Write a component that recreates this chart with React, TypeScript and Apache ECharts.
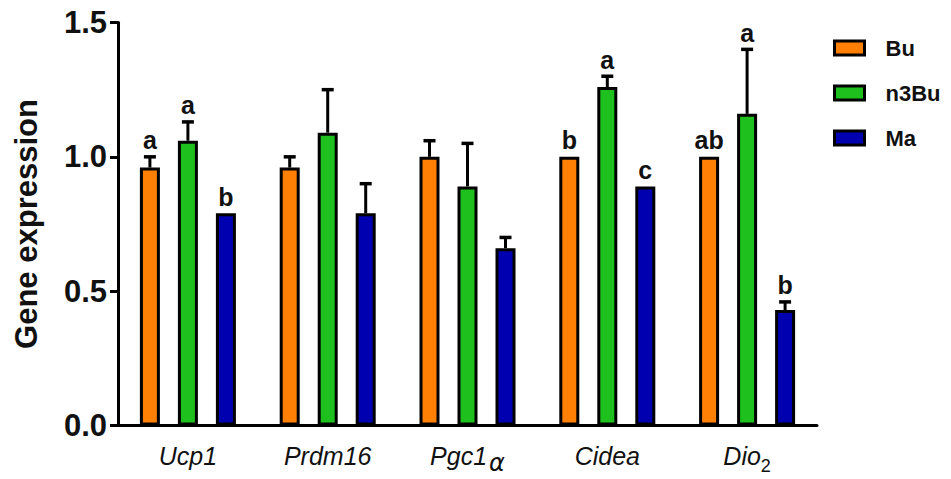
import React, { useEffect, useRef } from "react";
import * as echarts from "echarts";

const categories = ["Ucp1", "Prdm16", "Pgc1α", "Cidea", "Dio2"];
const seriesNames = ["Bu", "n3Bu", "Ma"];
const buValues = [0.96, 0.96, 1.0, 1.0, 1.0];
const n3buValues = [1.06, 1.09, 0.89, 1.26, 1.16];
const maValues = [0.79, 0.79, 0.66, 0.89, 0.43];
const buErr = [0.04, 0.04, 0.06, 0, 0];
const n3buErr = [0.07, 0.16, 0.16, 0.04, 0.24];
const maErr = [0, 0.11, 0.04, 0, 0.03];
const buLetters = ["a", "", "", "b", "ab"];
const n3buLetters = ["a", "", "", "a", "a"];
const maLetters = ["b", "", "", "c", "b"];
const yTicks = { min: 0, max: 1.5, interval: 0.5 };

const colors = ["#FF8005", "#1EC01E", "#0000B0"];
const FONT = "Liberation Sans, Arial, sans-serif";
const BAR_W = 20;
const BAR_GAP = 0.9;

const labelFormat: Record<string, string> = {
  Ucp1: "{n|Ucp1}",
  Prdm16: "{n|Prdm16}",
  "Pgc1α": "{n|Pgc1}{g|α}",
  Cidea: "{n|Cidea}",
  Dio2: "{n|Dio}{s|2}",
};

export default function App() {
  const ref = useRef<HTMLDivElement>(null);
  useEffect(() => {
    if (!ref.current) return;
    const chart = echarts.init(ref.current, null, { renderer: "svg" });
    const values = [buValues, n3buValues, maValues];
    const errs = [buErr, n3buErr, maErr];
    const letters = [buLetters, n3buLetters, maLetters];

    const barSeries = seriesNames.map((name, i) => ({
      name,
      type: "bar",
      data: values[i],
      barWidth: BAR_W,
      barGap: `${BAR_GAP * 100}%`,
      itemStyle: { color: colors[i], borderColor: "#000", borderWidth: 3 },
      z: 2,
    }));

    const errSeries = seriesNames.map((name, s) => ({
      name: name + "_err",
      type: "custom",
      z: 5,
      data: values[s].map((v, k) => [k, v, errs[s][k]]),
      renderItem: (params: any, api: any) => {
        const idx = api.value(0);
        const v = api.value(1);
        const e = api.value(2);
        const offset = (s - 1) * BAR_W * (1 + BAR_GAP);
        const base = api.coord([idx, v]);
        const x = base[0] + offset;
        const yBar = base[1];
        const yTop = api.coord([idx, v + e])[1];
        const children: any[] = [];
        if (e > 0) {
          children.push({
            type: "line",
            shape: { x1: x, y1: yBar, x2: x, y2: yTop },
            style: { stroke: "#000", lineWidth: 3 },
          });
          children.push({
            type: "line",
            shape: { x1: x - 6, y1: yTop, x2: x + 6, y2: yTop },
            style: { stroke: "#000", lineWidth: 3.5 },
          });
        }
        const letter = letters[s][params.dataIndex];
        if (letter) {
          children.push({
            type: "text",
            x,
            y: (e > 0 ? yTop : yBar) - 4,
            style: {
              text: letter,
              fill: "#111",
              font: `bold 25px ${FONT}`,
              align: "center",
              verticalAlign: "bottom",
            },
          });
        }
        return { type: "group", children };
      },
    }));

    chart.setOption({
      animation: false,
      grid: { left: 118, right: 134, top: 22.5, bottom: 53.5, containLabel: false },
      legend: {
        data: seriesNames,
        orient: "vertical",
        left: 828,
        top: 32,
        itemWidth: 30,
        itemHeight: 14,
        itemGap: 23,
        icon: "rect",
        itemStyle: { borderColor: "#000", borderWidth: 3 },
        textStyle: {
          fontFamily: FONT,
          fontSize: 22,
          fontWeight: "bold",
          color: "#111",
          padding: [0, 0, 0, 16],
        },
      },
      xAxis: {
        type: "category",
        data: categories,
        axisLine: { lineStyle: { color: "#000", width: 3 } },
        axisTick: { alignWithLabel: true, length: 8, lineStyle: { color: "#000", width: 3 } },
        axisLabel: {
          margin: 11,
          formatter: (v: string) => labelFormat[v] || v,
          rich: {
            n: {
              fontFamily: FONT,
              fontSize: 25,
              fontStyle: "italic",
              color: "#111",
              lineHeight: 38,
            },
            g: {
              fontFamily: "DejaVu Sans, sans-serif",
              fontSize: 24,
              fontStyle: "italic",
              color: "#111",
              lineHeight: 32,
              verticalAlign: "bottom",
              padding: [0, 0, 0, 2],
            },
            s: {
              fontFamily: FONT,
              fontSize: 18,
              color: "#111",
              lineHeight: 16,
              verticalAlign: "bottom",
            },
          },
        },
      },
      yAxis: {
        type: "value",
        min: yTicks.min,
        max: yTicks.max,
        interval: yTicks.interval,
        name: "Gene expression",
        nameLocation: "middle",
        nameGap: 76,
        nameTextStyle: { fontFamily: FONT, fontSize: 31, fontWeight: "bold", color: "#111" },
        axisLine: { show: true, lineStyle: { color: "#000", width: 3 } },
        axisTick: { show: true, length: 8, lineStyle: { color: "#000", width: 3 } },
        splitLine: { show: false },
        axisLabel: {
          margin: 11,
          fontFamily: FONT,
          fontSize: 31,
          fontWeight: "bold",
          color: "#111",
          formatter: (v: number) => v.toFixed(1),
        },
      },
      series: [...barSeries, ...errSeries],
    });
    return () => chart.dispose();
  }, []);
  return (
    <div
      ref={ref}
      style={{ position: "fixed", left: 0, top: 0, width: 951, height: 479, background: "#fff" }}
    />
  );
}
